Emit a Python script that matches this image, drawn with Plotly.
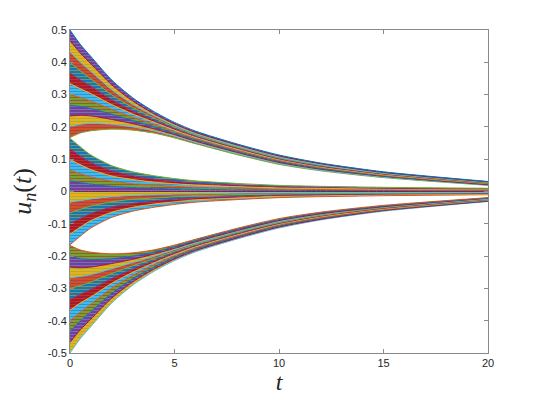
import plotly.graph_objects as go

# time samples (s)
t_samples = [0, 0.5, 1, 2, 3, 4, 5, 6, 8, 10, 12, 15, 20]

# upper cluster, bottom -> top
upper_curves = [
    [0.167, 0.181, 0.188, 0.193, 0.190, 0.181, 0.166, 0.148, 0.114, 0.084, 0.064, 0.043, 0.019],
    [0.200, 0.208, 0.211, 0.208, 0.200, 0.188, 0.171, 0.152, 0.117, 0.087, 0.066, 0.045, 0.020],
    [0.234, 0.236, 0.234, 0.223, 0.210, 0.194, 0.176, 0.156, 0.121, 0.090, 0.069, 0.047, 0.021],
    [0.267, 0.263, 0.257, 0.239, 0.220, 0.201, 0.180, 0.160, 0.124, 0.093, 0.071, 0.048, 0.023],
    [0.300, 0.291, 0.280, 0.254, 0.230, 0.208, 0.185, 0.164, 0.127, 0.096, 0.074, 0.050, 0.024],
    [0.334, 0.318, 0.303, 0.269, 0.240, 0.215, 0.190, 0.168, 0.131, 0.099, 0.076, 0.052, 0.025],
    [0.367, 0.345, 0.326, 0.284, 0.250, 0.221, 0.195, 0.171, 0.134, 0.101, 0.078, 0.054, 0.026],
    [0.400, 0.373, 0.349, 0.299, 0.260, 0.228, 0.200, 0.175, 0.137, 0.104, 0.081, 0.056, 0.027],
    [0.433, 0.400, 0.372, 0.315, 0.270, 0.235, 0.204, 0.179, 0.140, 0.107, 0.083, 0.057, 0.029],
    [0.467, 0.428, 0.395, 0.330, 0.280, 0.241, 0.209, 0.183, 0.144, 0.110, 0.086, 0.059, 0.030],
    [0.500, 0.455, 0.418, 0.345, 0.290, 0.248, 0.214, 0.187, 0.147, 0.113, 0.088, 0.061, 0.031],
]

# middle cluster, bottom -> top
middle_curves = [
    [-0.165, -0.138, -0.113, -0.080, -0.061, -0.049, -0.040, -0.033, -0.025, -0.019, -0.016, -0.013, -0.010],
    [-0.132, -0.110, -0.090, -0.064, -0.049, -0.039, -0.032, -0.026, -0.020, -0.015, -0.013, -0.010, -0.008],
    [-0.099, -0.083, -0.068, -0.048, -0.037, -0.029, -0.024, -0.020, -0.015, -0.011, -0.010, -0.008, -0.006],
    [-0.066, -0.055, -0.045, -0.032, -0.024, -0.020, -0.016, -0.013, -0.010, -0.008, -0.006, -0.005, -0.004],
    [-0.033, -0.028, -0.023, -0.016, -0.012, -0.010, -0.008, -0.007, -0.005, -0.004, -0.003, -0.003, -0.002],
    [0.000, 0.000, 0.000, 0.000, 0.000, 0.000, 0.000, 0.000, 0.000, 0.000, 0.000, 0.000, 0.000],
    [0.033, 0.028, 0.023, 0.016, 0.012, 0.010, 0.008, 0.007, 0.005, 0.004, 0.003, 0.003, 0.002],
    [0.066, 0.055, 0.045, 0.032, 0.024, 0.020, 0.016, 0.013, 0.010, 0.008, 0.006, 0.005, 0.004],
    [0.099, 0.083, 0.068, 0.048, 0.037, 0.029, 0.024, 0.020, 0.015, 0.011, 0.010, 0.008, 0.006],
    [0.132, 0.110, 0.090, 0.064, 0.049, 0.039, 0.032, 0.026, 0.020, 0.015, 0.013, 0.010, 0.008],
    [0.165, 0.138, 0.113, 0.080, 0.061, 0.049, 0.040, 0.033, 0.025, 0.019, 0.016, 0.013, 0.010],
]

# lower cluster, bottom -> top
lower_curves = [
    [-0.500, -0.455, -0.418, -0.345, -0.290, -0.248, -0.214, -0.187, -0.147, -0.113, -0.088, -0.061, -0.031],
    [-0.467, -0.428, -0.395, -0.330, -0.280, -0.241, -0.209, -0.183, -0.144, -0.110, -0.086, -0.059, -0.030],
    [-0.433, -0.400, -0.372, -0.315, -0.270, -0.235, -0.204, -0.179, -0.140, -0.107, -0.083, -0.057, -0.029],
    [-0.400, -0.373, -0.349, -0.299, -0.260, -0.228, -0.200, -0.175, -0.137, -0.104, -0.081, -0.056, -0.027],
    [-0.367, -0.345, -0.326, -0.284, -0.250, -0.221, -0.195, -0.171, -0.134, -0.101, -0.078, -0.054, -0.026],
    [-0.334, -0.318, -0.303, -0.269, -0.240, -0.215, -0.190, -0.168, -0.131, -0.099, -0.076, -0.052, -0.025],
    [-0.300, -0.291, -0.280, -0.254, -0.230, -0.208, -0.185, -0.164, -0.127, -0.096, -0.074, -0.050, -0.024],
    [-0.267, -0.263, -0.257, -0.239, -0.220, -0.201, -0.180, -0.160, -0.124, -0.093, -0.071, -0.048, -0.023],
    [-0.234, -0.236, -0.234, -0.223, -0.210, -0.194, -0.176, -0.156, -0.121, -0.090, -0.069, -0.047, -0.021],
    [-0.200, -0.208, -0.211, -0.208, -0.200, -0.188, -0.171, -0.152, -0.117, -0.087, -0.066, -0.045, -0.020],
    [-0.167, -0.181, -0.188, -0.193, -0.190, -0.181, -0.166, -0.148, -0.114, -0.084, -0.064, -0.043, -0.019],
]

x_ticks = [0, 5, 10, 15, 20]
y_ticks = [-0.5, -0.4, -0.3, -0.2, -0.1, 0, 0.1, 0.2, 0.3, 0.4, 0.5]
y_tick_labels = ["-0.5", "-0.4", "-0.3", "-0.2", "-0.1", "0", "0.1", "0.2", "0.3", "0.4", "0.5"]

palette = ["#0072BD", "#D95319", "#EDB120", "#7E2F8E", "#77AC30", "#4DBEEE", "#A2142F"]

fig = go.Figure()
ci = 0
for cluster in (upper_curves, middle_curves, lower_curves):
    for k, curve in enumerate(cluster):
        bg = palette[ci % len(palette)]
        fg = palette[(ci + 2) % len(palette)]
        line_col = palette[(ci + 4) % len(palette)]
        ci += 1
        kw = {}
        if k > 0:
            kw = dict(fill="tonexty", fillcolor=bg,
                      fillpattern=dict(shape="-", fgcolor=fg, bgcolor=bg, size=3, solidity=0.45))
        fig.add_trace(go.Scatter(
            x=t_samples, y=curve, mode="lines",
            line=dict(color=line_col, width=1, shape="spline", smoothing=0.7),
            showlegend=False, hoverinfo="skip", **kw,
        ))

axis_col = "#8a8a8a"
tick_font = dict(family="Liberation Sans, Arial, sans-serif", size=11, color="#262626")
fig.update_layout(
    width=540, height=405,
    margin=dict(l=62, r=60, t=22, b=60, autoexpand=False),
    paper_bgcolor="white", plot_bgcolor="white",
    showlegend=False,
    xaxis=dict(
        range=[0, 20], tickvals=x_ticks, ticktext=[str(v) for v in x_ticks],
        showgrid=False, zeroline=False, showline=True, linecolor=axis_col, linewidth=1,
        mirror="ticks", ticks="inside", ticklen=4, tickcolor=axis_col,
        tickfont=tick_font,
        title=dict(text="<i>t</i>", font=dict(family="Liberation Serif, serif", size=24, color="#262626"), standoff=2),
    ),
    yaxis=dict(
        range=[-0.5, 0.5], tickvals=y_ticks, ticktext=y_tick_labels,
        showgrid=False, zeroline=False, showline=True, linecolor=axis_col, linewidth=1,
        mirror="ticks", ticks="inside", ticklen=4, tickcolor=axis_col,
        tickfont=tick_font,
        title=dict(text="<i>u</i><sub><i>n</i></sub>(<i>t</i>)", font=dict(family="Liberation Serif, serif", size=26, color="#262626"), standoff=12),
    ),
)

fig.write_html("out.html")
